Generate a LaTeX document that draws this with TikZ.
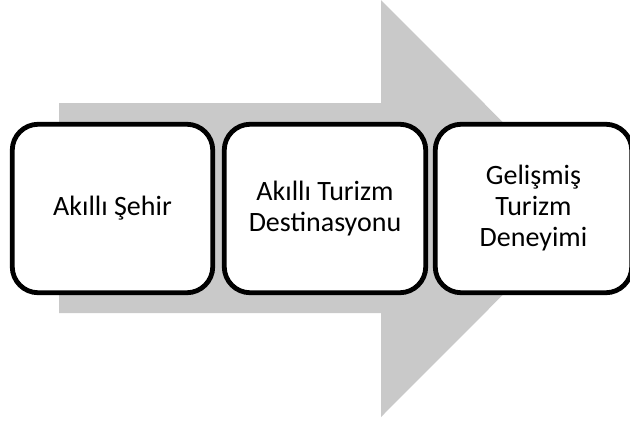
\documentclass[tikz,border=0pt]{standalone}
\usepackage{fontspec}
\setmainfont{Carlito}
\definecolor{arrowgray}{RGB}{201,201,201}
\tikzset{
  stagebox/.style={draw=black, line width=4.8pt, fill=white, rounded corners=26pt,
    minimum height=168.5pt, inner sep=0pt, align=center,
    font=\fontsize{28}{31}\selectfont},
  bigarrow/.style={fill=arrowgray, draw=none}
}
\begin{document}
\begin{tikzpicture}[x=1pt, y=-1pt]
  \useasboundingbox (0,0) rectangle (630,421);
  \clip (0,0) rectangle (630,421);
  % broad background arrow
  \fill[bigarrow] (59,103) -- (381,103) -- (381,0) -- (589,208.5) -- (381,417)
    -- (381,313) -- (59,313) -- cycle;
  % the three stages
  \node[stagebox, minimum width=200.5pt] (s1) at (112.5,208.5) {Akıllı Şehir};
  \node[stagebox, minimum width=201.5pt] (s2) at (325,208.5) {Akıllı Turizm\\Destinasyonu};
  \node[stagebox, minimum width=196.5pt] (s3) at (533.5,208.5) {Gelişmiş\\Turizm\\Deneyimi};
\end{tikzpicture}
\end{document}
